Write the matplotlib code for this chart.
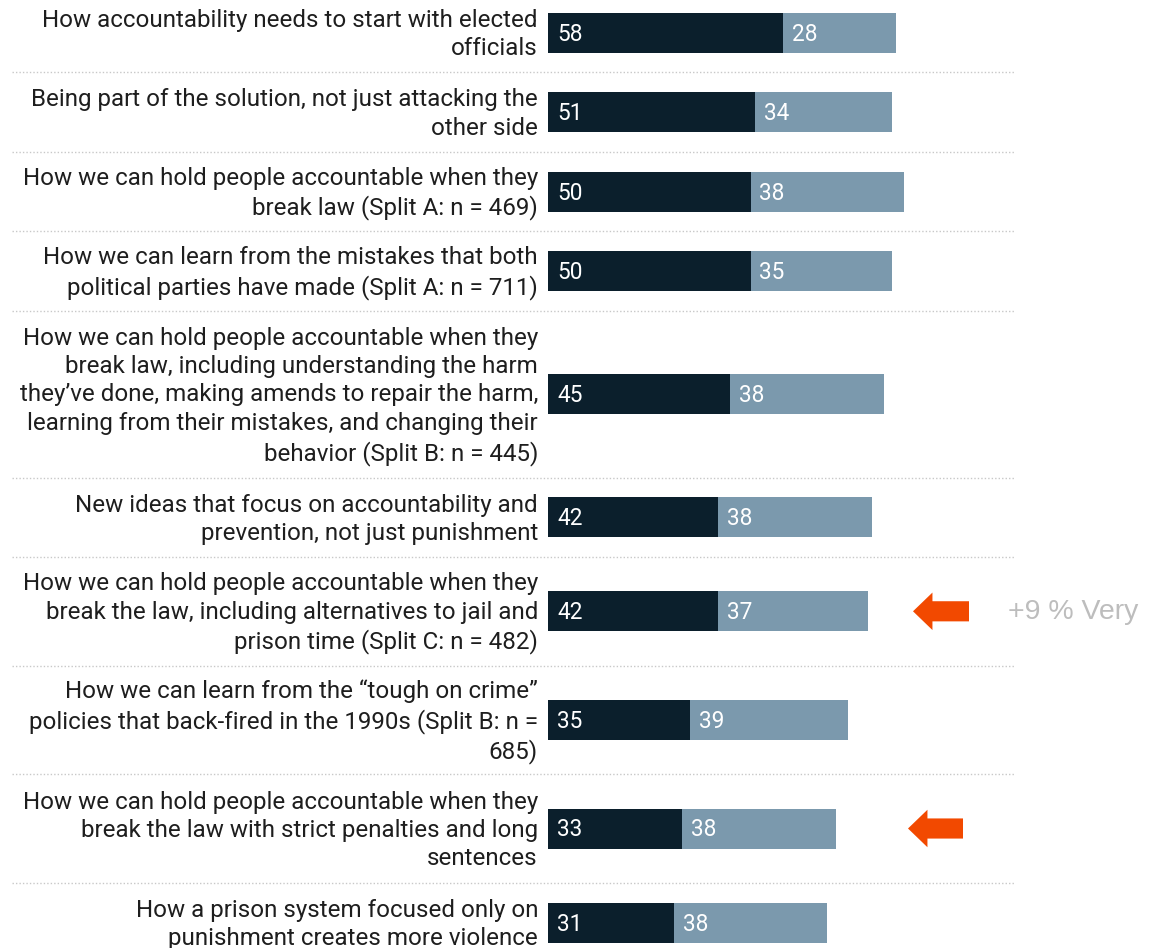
import matplotlib
matplotlib.use("Agg")
import matplotlib.pyplot as plt

# Data
labels = [
    "How accountability needs to start with elected\nofficials",
    "Being part of the solution, not just attacking the\nother side",
    "How we can hold people accountable when they\nbreak law (Split A: n = 469)",
    "How we can learn from the mistakes that both\npolitical parties have made (Split A: n = 711)",
    "How we can hold people accountable when they\nbreak law, including understanding the harm\nthey\u2019ve done, making amends to repair the harm,\nlearning from their mistakes, and changing their\nbehavior (Split B: n = 445)",
    "New ideas that focus on accountability and\nprevention, not just punishment",
    "How we can hold people accountable when they\nbreak the law, including alternatives to jail and\nprison time (Split C: n = 482)",
    "How we can learn from the \u201ctough on crime\u201d\npolicies that back-fired in the 1990s (Split B: n =\n685)",
    "How we can hold people accountable when they\nbreak the law with strict penalties and long\nsentences",
    "How a prison system focused only on\npunishment creates more violence",
]
very = [58, 51, 50, 50, 45, 42, 42, 35, 33, 31]
somewhat = [28, 34, 38, 35, 38, 38, 37, 39, 38, 38]
arrow_rows = [6, 8]
note = "+9 % Very"

dark = "#0b1f2c"
light = "#7b99ad"
orange = "#f24900"

# row layout (y in pixels, grows with number of label lines)
line_h = 29.2
pad = 21
centers, seps = [], []
y = -7
for lab in labels:
    row = (lab.count("\n") + 1) * line_h + pad
    centers.append(y + row / 2)
    y += row
    seps.append(y)

W, H = 1168, 948
fig = plt.figure(figsize=(W / 100, H / 100), dpi=100)
ax = fig.add_axes([0, 0, 1, 1])
px = 4.05  # pixels per percentage point
x0 = 548
ax.set_xlim(-x0 / px, (W - x0) / px)
ax.set_ylim(H, 0)
ax.axis("off")

ax.barh(centers, very, height=40, color=dark, edgecolor="none")
ax.barh(centers, somewhat, left=very, height=40, color=light, edgecolor="none")

for i, c in enumerate(centers):
    ax.text(-10 / px, c + 2, labels[i], ha="right", va="center", fontsize=17.35,
            family="Roboto", color="#1e1e1e", linespacing=1.3)
    ax.text(9 / px, c + 1.5, str(very[i]), ha="left", va="center", fontsize=16.3,
            family="Roboto", color="white")
    ax.text(very[i] + 9 / px, c + 1.5, str(somewhat[i]), ha="left", va="center",
            fontsize=16.3, family="Roboto", color="white")

for s in seps[:-1]:
    ax.plot([(12 - x0) / px, (1015 - x0) / px], [s, s], color="#c8c8c8",
            lw=1, ls=(0, (1, 1.5)))

# arrows
tips = [(913, 969), (908, 963)]
for r, (tip, tail) in zip(arrow_rows, tips):
    ax.annotate("", xy=((tip - x0) / px, centers[r]),
                xytext=((tail - x0) / px, centers[r]),
                arrowprops=dict(arrowstyle="simple,head_length=1.4,head_width=2.7,tail_width=1.45",
                                color=orange, shrinkA=0, shrinkB=0,
                                mutation_scale=10, lw=0))

ax.text((1008 - x0) / px, centers[arrow_rows[0]] + 1, note, ha="left", va="center",
        fontsize=20.5, family="Liberation Sans", color="#bdbdbd")

plt.savefig("out.png", dpi=100)
